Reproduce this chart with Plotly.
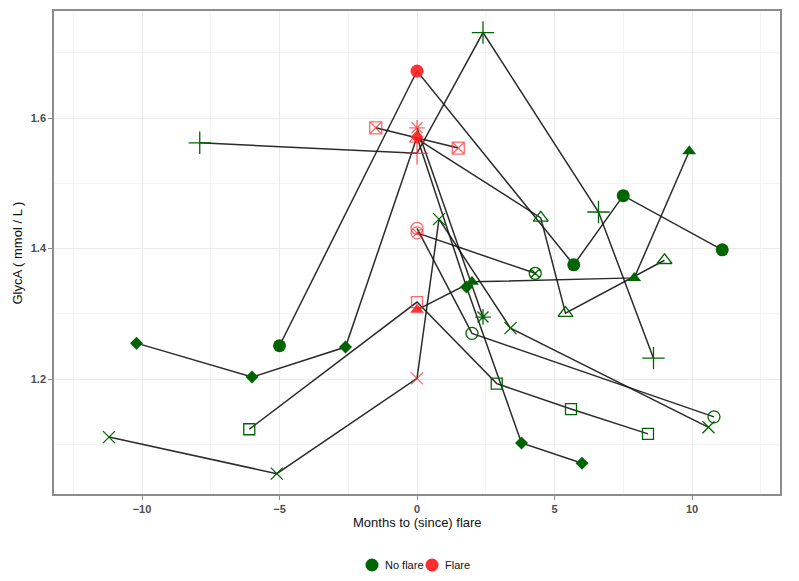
import plotly.graph_objects as go

# ---- data: months relative to flare, GlycA values, flare flags per patient ----
circle_months = [-5.0, 0.0, 5.7, 7.5, 11.1]
circle_glyca = [1.251, 1.672, 1.375, 1.481, 1.398]
circle_flare = [0, 1, 0, 0, 0]

diamond_months = [-10.2, -6.0, -2.6, 0.0, 1.8, 3.8, 6.0]
diamond_glyca = [1.255, 1.203, 1.249, 1.571, 1.341, 1.102, 1.071]
diamond_flare = [0, 0, 0, 1, 0, 0, 0]

tri_months = [0.0, 2.0, 7.9, 9.9]
tri_glyca = [1.306, 1.349, 1.355, 1.549]
tri_flare = [1, 0, 0, 0]

square_months = [-6.1, 0.0, 2.9, 5.6, 8.4]
square_glyca = [1.123, 1.318, 1.193, 1.154, 1.116]
square_flare = [0, 1, 0, 0, 0]

x_months = [-11.2, -5.1, 0.0, 0.8, 3.4, 10.6]
x_glyca = [1.111, 1.055, 1.201, 1.445, 1.278, 1.126]
x_flare = [0, 0, 1, 0, 0, 0]

plus_months = [-7.9, 0.0, 2.4, 6.6, 8.6]
plus_glyca = [1.562, 1.546, 1.731, 1.456, 1.232]
plus_flare = [0, 1, 0, 0, 0]

otri_months = [0.0, 4.5, 5.4, 9.0]
otri_glyca = [1.568, 1.447, 1.301, 1.382]
otri_flare = [1, 0, 0, 0]

ocircle_months = [0.0, 2.0, 10.8]
ocircle_glyca = [1.431, 1.270, 1.142]
ocircle_flare = [1, 0, 0]

cx_months = [0.0, 4.3]
cx_glyca = [1.424, 1.362]
cx_flare = [1, 0]

sx_months = [-1.5, 1.5]
sx_glyca = [1.585, 1.554]
sx_flare = [1, 1]

ast_months = [0.0, 2.4]
ast_glyca = [1.585, 1.295]
ast_flare = [1, 0]

legend_labels = ["No flare", "Flare"]

GREEN = "#006400"
RED = "rgba(255,30,30,0.9)"
RED_OPEN = "rgba(255,40,40,0.7)"
RED_KEY = "rgb(255,45,45)"
FONT = "Liberation Sans, Arial"

patients = [
    (circle_months, circle_glyca, circle_flare, "circle", 13),
    (diamond_months, diamond_glyca, diamond_flare, "diamond", 10),
    (tri_months, tri_glyca, tri_flare, "triangle-up", 12),
    (square_months, square_glyca, square_flare, "square-open", 11),
    (x_months, x_glyca, x_flare, "x-thin-open", 12),
    (plus_months, plus_glyca, plus_flare, "cross-thin-open", 16),
    (otri_months, otri_glyca, otri_flare, "triangle-up-open", 13),
    (ocircle_months, ocircle_glyca, ocircle_flare, "circle-open", 12),
    (cx_months, cx_glyca, cx_flare, "circle-x-open", 12),
    (sx_months, sx_glyca, sx_flare, "square-x-open", 12),
    (ast_months, ast_glyca, ast_flare, "asterisk-open", 13),
]

fig = go.Figure()

for m, g, f, sym, sz in patients:
    fig.add_trace(go.Scatter(x=m, y=g, mode="lines",
                             line=dict(color="rgba(20,20,20,0.9)", width=1.5),
                             showlegend=False, hoverinfo="skip"))

for m, g, f, sym, sz in patients:
    is_open = sym.endswith("-open")
    cols = [(RED_OPEN if is_open else RED) if fl else GREEN for fl in f]
    fig.add_trace(go.Scatter(
        x=m, y=g, mode="markers", showlegend=False,
        marker=dict(symbol=sym, size=sz, color=cols,
                    line=dict(color=cols, width=1.3 if is_open else 0))))

axis_common = dict(
    showline=True, linecolor="#8c8c8c", linewidth=1.5, mirror=True,
    ticks="outside", ticklen=4, tickcolor="#8c8c8c",
    showgrid=True, gridcolor="#ebebeb", gridwidth=1, zeroline=False,
    automargin=False,
    tickfont=dict(family=FONT, size=11, color="#4d4d4d", weight="bold"),
)

fig.update_xaxes(range=[-13.2, 13.2], tick0=0, dtick=5,
                 minor=dict(dtick=2.5, showgrid=True, gridcolor="#f4f4f4"),
                 **axis_common)
fig.update_yaxes(range=[1.0238, 1.764], tick0=1.2, dtick=0.2, tickformat=".1f",
                 minor=dict(dtick=0.1, showgrid=True, gridcolor="#f4f4f4"),
                 **axis_common)

LEG_Y = -0.147
key_x = [0.438, 0.5207]
text_x = [0.4532, 0.5358]
key_cols = [GREEN, RED_KEY]

annotations = [
    dict(text="Months to (since) flare", xref="paper", yref="paper",
         x=0.5, y=-0.060, xanchor="center", yanchor="middle", showarrow=False,
         font=dict(family=FONT, size=13, color="#111")),
    dict(text="GlycA ( mmol / L )", xref="paper", yref="paper",
         x=-0.0496, y=0.5, xanchor="center", yanchor="middle", textangle=-90,
         showarrow=False, font=dict(family=FONT, size=13, color="#111")),
]
shapes = []
for lab, kx, tx, col in zip(legend_labels, key_x, text_x, key_cols):
    annotations.append(dict(text=lab, xref="paper", yref="paper", x=tx, y=LEG_Y,
                            xanchor="left", yanchor="middle", showarrow=False,
                            font=dict(family=FONT, size=11, color="#111")))
    shapes.append(dict(type="circle", xref="paper", yref="paper",
                       xsizemode="pixel", ysizemode="pixel",
                       xanchor=kx, yanchor=LEG_Y,
                       x0=-6.5, x1=6.5, y0=-6.5, y1=6.5,
                       fillcolor=col, line=dict(width=0)))

fig.update_layout(
    width=783, height=565,
    margin=dict(l=46, r=11, t=3, b=79),
    plot_bgcolor="white", paper_bgcolor="white",
    showlegend=False,
    annotations=annotations,
    shapes=shapes,
)

fig.write_html("out.html")
